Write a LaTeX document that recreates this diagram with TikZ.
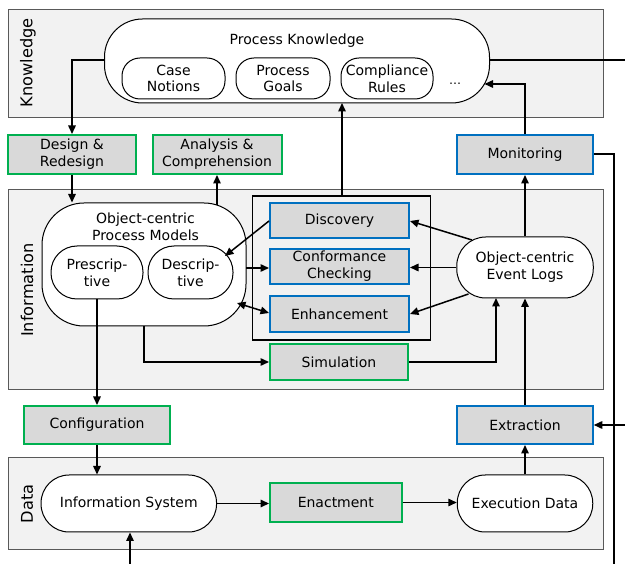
\documentclass[tikz,border=0pt]{standalone}
\usepackage{fontspec}
\setmainfont{DejaVu Sans}
\usetikzlibrary{arrows.meta}
\definecolor{bandfill}{HTML}{F2F2F2}
\definecolor{boxfill}{HTML}{D9D9D9}
\definecolor{grn}{HTML}{00B050}
\definecolor{blu}{HTML}{0070C0}
\definecolor{bandline}{HTML}{595959}
\begin{document}
\begin{tikzpicture}[x=1pt,y=-1pt,
  font=\fontsize{14}{16.8}\selectfont,
  band/.style={draw=bandline, fill=bandfill, line width=1pt},
  bandlabel/.style={rotate=90, font=\fontsize{16.2}{18}\selectfont},
  gbox/.style={draw=grn, fill=boxfill, line width=2pt, align=center, inner sep=0pt},
  bbox/.style={draw=blu, fill=boxfill, line width=2pt, align=center, inner sep=0pt},
  pill/.style={draw, fill=white, line width=1pt, align=center, inner sep=0pt},
  arr/.style={-{Triangle[length=8.5pt,width=7.5pt]}, line width=1.5pt},
  dbl/.style={{Triangle[length=8.5pt,width=7.5pt]}-{Triangle[length=8.5pt,width=7.5pt]}, line width=1.5pt},
  ln/.style={line width=1.5pt}]
\useasboundingbox (0,0) rectangle (625,564);
\fill[white] (0,0) rectangle (625,564);

% bands
\draw[band] (8,9.5) rectangle (603,118);
\draw[band] (8,190) rectangle (603,390);
\draw[band] (8,458) rectangle (603,550);
\node[bandlabel] (lk) at (28,63) {Knowledge};
\node[bandlabel] (li) at (27,290) {Information};
\node[bandlabel] (ld) at (27,504) {Data};

% black frame of mining techniques
\node[draw, line width=1.2pt, minimum width=178pt, minimum height=144pt, inner sep=0pt] (frame) at (341.5,268) {};

% knowledge
\node[pill, rounded corners=38pt, minimum width=385pt, minimum height=84pt] (pk) at (297,61) {};
\node[align=center] (pkt) at (297,41) {Process Knowledge};
\node[pill, rounded corners=18pt, minimum width=103pt, minimum height=41pt] (cn) at (173.5,78.5) {Case\\Notions};
\node[pill, rounded corners=18pt, minimum width=94pt, minimum height=41pt] (pg) at (283,78.5) {Process\\Goals};
\node[pill, rounded corners=18pt, minimum width=92pt, minimum height=41pt] (cr) at (387,78.5) {Compliance\\Rules};
\node (dots) at (455,84) {\fontsize{12}{12}\selectfont\dots};

% transitions between knowledge and information
\node[gbox, minimum width=128pt, minimum height=39pt] (des) at (72,154.5) {Design \&\\Redesign};
\node[gbox, minimum width=129pt, minimum height=39pt] (ana) at (217,154.5) {Analysis \&\\Comprehension};
\node[bbox, minimum width=136.5pt, minimum height=39pt] (mon) at (525,154.5) {Monitoring};

% information layer
\draw[arr] (ana.south) ++(0,45) -- (ana.south);
\node[pill, rounded corners=42pt, minimum width=204pt, minimum height=123pt] (ocpm) at (144,264.5) {};
\node[align=center] (ocpmt) at (145.5,227) {Object-centric\\Process Models};
\node[pill, rounded corners=26pt, minimum width=92pt, minimum height=53pt] (pre) at (97,272.5) {Prescrip-\\tive};
\node[pill, rounded corners=26pt, minimum width=85pt, minimum height=53pt] (dsc) at (190.5,272.5) {Descrip-\\tive};

\node[bbox, minimum width=139pt, minimum height=35pt] (disc) at (339.5,220.5) {Discovery};
\node[bbox, minimum width=139pt, minimum height=35pt] (conf) at (339.5,266.5) {Conformance\\Checking};
\node[bbox, minimum width=139pt, minimum height=36pt] (enh) at (339.5,314) {Enhancement};
\node[gbox, minimum width=138pt, minimum height=36pt] (sim) at (339,362) {Simulation};

\node[pill, rounded corners=29pt, minimum width=136.5pt, minimum height=61pt] (ocel) at (525,267.5) {Object-centric\\Event Logs};

% transitions between information and data
\node[gbox, minimum width=146.5pt, minimum height=38pt] (cfg) at (97,425) {Configuration};
\node[bbox, minimum width=135.5pt, minimum height=38pt] (ext) at (525,425) {Extraction};

% data layer
\node[pill, rounded corners=28pt, minimum width=175.5pt, minimum height=57pt] (is) at (128.8,503.5) {Information System};
\node[gbox, minimum width=131.5pt, minimum height=39pt] (ena) at (335.8,502.5) {Enactment};
\node[pill, rounded corners=28pt, minimum width=135.5pt, minimum height=57pt] (exd) at (525,503.5) {Execution Data};

% free ends
\coordinate (rtop) at (632,60);
\coordinate (rext) at (632,425);
\coordinate (mright) at (614,154);
\coordinate (mbot) at (614,570);
\coordinate (isin) at (130,570);

% connectors: knowledge
\draw[arr] (pk.west |- 0,60) -| (des.north);
\draw[ln] (pk.east |- 0,60) -- (rtop) -- (rext);
\draw[arr] (rext) -- (ext.east);
\draw[arr] (frame.north -| 342,0) -- (342,103);
\draw[arr] (mon.north) |- (484.5,84);
\draw[ln] (mon.east |- mright) -- (mright) -- (mbot);
\draw[arr] (des.south) -- (des.south |- ocpm.north);

% connectors: information
\draw[arr] (disc.west |- 0,221) -- (225,256);
\draw[arr] (246,268) -- (conf.west |- 0,268);
\draw[dbl] (237,303) -- (enh.west |- 0,313);
\draw[arr] (472,240) -- (disc.east |- 0,221);
\draw[arr] (ocel.west) -- (conf.east |- ocel.west);
\draw[arr] (468.5,294) -- (enh.east |- 0,314);
\draw[arr] (ocpm.south) |- (sim.west);
\draw[arr] (sim.east) -| (496,298);
\draw[arr] (ocel.north) -- (mon.south);
\draw[arr] (ext.north) -- (ocel.south -| ext.north);
\draw[arr] (pre.south) -- (pre.south |- cfg.north);

% connectors: data
\draw[arr] (cfg.south) -- (cfg.south |- is.north);
\draw[arr] (is.east) -- (ena.west |- is.east);
\draw[arr] (ena.east) -- (exd.west |- ena.east);
\draw[arr] (exd.north -| ext.south) -- (ext.south);
\draw[arr] (isin) -- (is.south -| isin);
\end{tikzpicture}
\end{document}
